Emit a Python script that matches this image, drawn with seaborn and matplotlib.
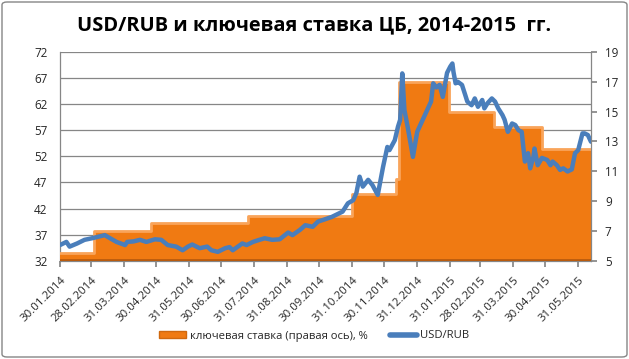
import matplotlib
matplotlib.use("Agg")
import matplotlib.pyplot as plt
from matplotlib.patches import Patch, FancyBboxPatch
from matplotlib.lines import Line2D
import seaborn as sns
import pandas as pd

# ---------------- data ----------------
usd_dates = [
    "2014-01-30", "2014-02-05", "2014-02-08", "2014-02-15", "2014-02-22", "2014-03-01",
    "2014-03-05", "2014-03-13", "2014-03-18", "2014-03-24", "2014-04-01", "2014-04-03",
    "2014-04-09", "2014-04-15", "2014-04-21", "2014-04-29", "2014-05-05", "2014-05-11",
    "2014-05-19", "2014-05-25", "2014-05-30", "2014-06-03", "2014-06-10", "2014-06-17",
    "2014-06-21", "2014-06-27", "2014-07-04", "2014-07-08", "2014-07-11", "2014-07-20",
    "2014-07-24", "2014-07-30", "2014-08-05", "2014-08-10", "2014-08-17", "2014-08-24",
    "2014-09-01", "2014-09-05", "2014-09-12", "2014-09-17", "2014-09-24", "2014-09-29",
    "2014-10-05", "2014-10-12", "2014-10-17", "2014-10-22", "2014-10-27", "2014-11-01",
    "2014-11-04", "2014-11-07", "2014-11-10", "2014-11-15", "2014-11-19", "2014-11-24",
    "2014-11-29", "2014-12-03", "2014-12-05", "2014-12-10", "2014-12-13", "2014-12-15",
    "2014-12-17", "2014-12-19", "2014-12-22", "2014-12-27", "2014-12-31", "2015-01-13",
    "2015-01-15", "2015-01-18", "2015-01-21", "2015-01-24", "2015-01-28", "2015-01-31",
    "2015-02-02", "2015-02-03", "2015-02-05", "2015-02-07", "2015-02-11", "2015-02-14",
    "2015-02-16", "2015-02-20", "2015-02-23", "2015-02-26", "2015-03-02", "2015-03-04",
    "2015-03-07", "2015-03-11", "2015-03-14", "2015-03-17", "2015-03-21", "2015-03-23",
    "2015-03-26", "2015-03-30", "2015-04-02", "2015-04-05", "2015-04-08", "2015-04-11",
    "2015-04-14", "2015-04-16", "2015-04-19", "2015-04-20", "2015-04-23", "2015-04-27",
    "2015-05-02", "2015-05-05", "2015-05-07", "2015-05-11", "2015-05-14", "2015-05-17",
    "2015-05-21", "2015-05-25", "2015-05-28", "2015-05-31", "2015-06-04", "2015-06-06",
    "2015-06-09", "2015-06-12",
]
usd_rub = [
    35.0, 35.6, 34.7, 35.3, 36.0, 36.3,
    36.5, 36.9, 36.3, 35.6, 35.0, 35.6,
    35.7, 36.0, 35.6, 36.1, 36.0, 35.0,
    34.7, 34.0, 34.7, 35.1, 34.4, 34.7,
    34.0, 33.7, 34.4, 34.6, 34.0, 35.3,
    35.0, 35.6, 36.0, 36.3, 36.0, 36.1,
    37.4, 36.9, 37.9, 38.8, 38.5, 39.5,
    39.9, 40.4, 40.9, 41.4, 43.0, 43.6,
    45.0, 48.1, 46.2, 47.5, 46.5, 44.6,
    50.0, 53.8, 53.2, 55.1, 57.7, 59.0,
    67.9, 60.9, 57.7, 51.9, 56.7, 62.5,
    66.0, 65.2, 65.7, 63.4, 68.0, 69.2,
    69.8, 68.2, 66.0, 66.3, 65.7, 63.8,
    62.5, 61.8, 63.1, 61.5, 62.8, 61.2,
    62.2, 63.1, 62.5, 61.2, 59.9, 59.0,
    56.7, 58.3, 58.0, 57.0, 56.7, 51.0,
    52.6, 49.7, 51.9, 53.5, 50.3, 51.7,
    51.3, 50.3, 51.0, 50.3, 49.4, 49.7,
    49.1, 49.5, 52.6, 53.2, 56.4, 56.4,
    56.1, 54.8,
]

rate_dates = ["2014-01-30", "2014-03-03", "2014-04-25", "2014-07-25", "2014-10-31",
              "2014-12-11", "2014-12-14", "2015-01-30", "2015-03-13", "2015-04-27",
              "2015-06-12"]
key_rate = [5.5, 7.0, 7.5, 8.0, 9.5, 10.5, 17.0, 15.0, 14.0, 12.5, 12.5]

tick_labels = ["30.01.2014", "28.02.2014", "31.03.2014", "30.04.2014", "31.05.2014",
               "30.06.2014", "31.07.2014", "31.08.2014", "30.09.2014", "31.10.2014",
               "30.11.2014", "31.12.2014", "31.01.2015", "28.02.2015", "31.03.2015",
               "30.04.2015", "31.05.2015"]

title = "USD/RUB и ключевая ставка ЦБ, 2014-2015  гг."
rate_label = "ключевая ставка (правая ось), %"
usd_label = "USD/RUB"

# ---------------- plot ----------------
sns.set_theme(style="white")
plt.rcParams["font.family"] = ["Open Sans", "DejaVu Sans"]

df_usd = pd.DataFrame({"date": pd.to_datetime(usd_dates), "usd": usd_rub})
df_rate = pd.DataFrame({"date": pd.to_datetime(rate_dates), "rate": key_rate})
ticks = pd.to_datetime(tick_labels, format="%d.%m.%Y")

W, H = 629, 359
fig = plt.figure(figsize=(W / 100, H / 100), dpi=100)
fig.patch.set_facecolor("white")
border = FancyBboxPatch((2 / W, 2 / H), 1 - 4 / W, 1 - 4 / H,
                        boxstyle="round,pad=0,rounding_size=0.008",
                        transform=fig.transFigure, fill=False,
                        edgecolor="#868686", lw=1.0)
fig.patches.append(border)

left, right, top, bottom = 60 / W, 591 / W, 52 / H, 260.7 / H
ax = fig.add_axes([left, 1 - bottom, right - left, bottom - top])
ax2 = ax.twinx()
ax3 = ax.twinx()

GRAY = "#868686"
ORANGE = "#F07A12"
xmin = pd.Timestamp("2014-01-30")
xmax = pd.Timestamp("2015-06-12")

# base axis: left scale, gridlines, x ticks
ax.set_ylim(32, 72)
ax.set_yticks(range(32, 73, 5))
ax.set_xlim(xmin, xmax)
ax.grid(axis="y", color=GRAY, lw=0.9)
ax.grid(axis="x", visible=False)
ax.set_xticks(ticks)
ax.set_xticklabels(tick_labels, rotation=45, ha="right", va="top",
                   rotation_mode="anchor", fontsize=8.2)
ax.tick_params(axis="x", length=4, color=GRAY, direction="out", pad=6, bottom=True)
ax.tick_params(axis="y", length=0, labelsize=8.4, pad=9)
for s in ["top", "right"]:
    ax.spines[s].set_visible(False)
for s in ["left", "bottom"]:
    ax.spines[s].set_color(GRAY)
    ax.spines[s].set_linewidth(0.9)

# rate area on right axis
ax2.set_ylim(5, 19)
ax2.set_yticks(range(5, 20, 2))
ax2.fill_between(df_rate["date"], 5, df_rate["rate"], step="post",
                 color=ORANGE, lw=0, zorder=2)
sns.lineplot(data=df_rate, x="date", y="rate", ax=ax2, drawstyle="steps-post",
             color="#F9A45A", lw=2.0, zorder=3, legend=False)
ax2.axhline(5.07, color="#B95B0E", lw=2.0, zorder=3)
ax2.set_xlim(xmin, xmax)
ax2.set_ylabel("")
ax2.set_xlabel("")
ax2.tick_params(axis="y", length=4, color=GRAY, direction="out", labelsize=8.4, pad=6, right=True)
for s in ["top", "left", "bottom"]:
    ax2.spines[s].set_visible(False)
ax2.spines["right"].set_color(GRAY)
ax2.spines["right"].set_linewidth(0.9)
ax2.grid(False)

# USD/RUB line on top
sns.lineplot(data=df_usd, x="date", y="usd", ax=ax3, color="#4A7EBB", lw=3.2,
             legend=False, solid_capstyle="round", solid_joinstyle="round")
ax3.set_ylim(32, 72)
ax3.set_xlim(xmin, xmax)
ax3.axis("off")

ax.set_xlabel("")
ax.set_ylabel("")
ax.set_xlim(xmin, xmax)

fig.text(0.5, 1 - 25 / H, title, ha="center", va="center", fontsize=14.4,
         fontweight="bold", color="black")

handles = [Patch(facecolor=ORANGE, edgecolor="#D0680E", lw=1.0),
           Line2D([0], [0], color="#4A7EBB", lw=4)]
fig.legend(handles, [rate_label, usd_label], loc="center",
           bbox_to_anchor=(0.5, 1 - 336 / H), ncol=2, frameon=False,
           fontsize=8.1, handlelength=2.4, handleheight=0.6, handletextpad=0.35,
           columnspacing=1.9)

fig.savefig("out.png", dpi=100)
